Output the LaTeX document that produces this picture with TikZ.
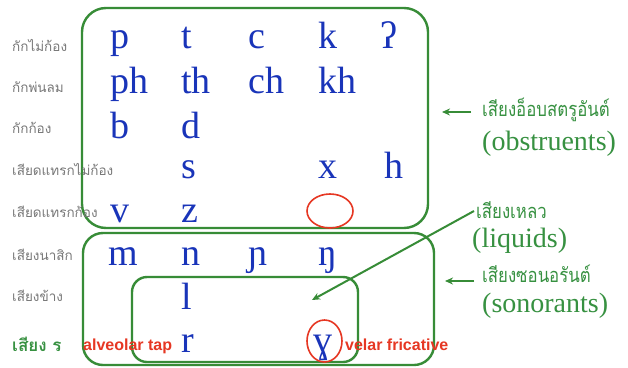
\documentclass[tikz,border=0pt]{standalone}
\usepackage{fontspec}
\setmainfont{Liberation Serif}
\newfontfamily\thaifont[Script=Thai]{Loma}
\newfontfamily\thainarrow[Script=Thai,FakeStretch=0.84]{Loma}
\newfontfamily\labsans{Liberation Sans}
\usetikzlibrary{arrows.meta,shapes.geometric}
\definecolor{ipablue}{RGB}{25,52,185}
\definecolor{boxgreen}{RGB}{55,140,55}
\definecolor{txtgreen}{RGB}{55,145,65}
\definecolor{lblgray}{RGB}{120,120,120}
\definecolor{tapred}{RGB}{230,55,35}
\begin{document}
\begin{tikzpicture}[x=1pt,y=-1pt,
  ipa/.style={anchor=base west,inner sep=0pt,text=ipablue,font=\fontsize{38}{38}\selectfont},
  rowlab/.style={anchor=base west,inner sep=0pt,text=lblgray,font=\thaifont\fontsize{13.5}{13.5}\selectfont},
  grp/.style={draw=boxgreen,line width=2.4pt},
  redlab/.style={anchor=base west,inner sep=0pt,text=tapred,font=\labsans\bfseries\fontsize{16}{16}\selectfont},
  thaigreen/.style={anchor=base west,inner sep=0pt,text=txtgreen,font=\thainarrow\fontsize{20}{20}\selectfont},
  enggreen/.style={anchor=base west,inner sep=0pt,text=txtgreen,font=\fontsize{28}{28}\selectfont},
  pointer/.style={draw=boxgreen,line width=2pt,-{Stealth[length=8pt,width=7pt]}},
  redring/.style={ellipse,draw=tapred,line width=1.6pt,inner sep=0pt}]
\useasboundingbox (0,0) rectangle (628,367);
\fill[white] (0,0) rectangle (628,367);

% group boxes
\draw[grp,rounded corners=24pt] (82,8) rectangle (428,228);
\draw[grp,rounded corners=20pt] (83,233) rectangle (434,365);
\draw[grp,rounded corners=15pt] (132,277) rectangle (358,362);

% row labels
\node[rowlab] (l1) at (12,51) {กักไม่ก้อง};
\node[rowlab] (l2) at (12,92) {กักพ่นลม};
\node[rowlab] (l3) at (12,133) {กักก้อง};
\node[rowlab] (l4) at (12,175) {เสียดแทรกไม่ก้อง};
\node[rowlab] (l5) at (12,217) {เสียดแทรกก้อง};
\node[rowlab] (l6) at (12,260) {เสียงนาสิก};
\node[rowlab] (l7) at (12,301) {เสียงข้าง};
\node[anchor=base west,inner sep=0pt,text=txtgreen,font=\thaifont\bfseries\fontsize{17}{17}\selectfont] (l8) at (12,351) {เสียง ร};

% IPA symbols
\node[ipa] (p) at (110,48) {p};
\node[ipa] (t) at (181,48) {t};
\node[ipa] (c) at (248,48) {c};
\node[ipa] (k) at (318,48) {k};
\node[ipa] (q) at (380,48) {ʔ};
\node[ipa] (ph) at (110,93) {ph};
\node[ipa] (th) at (181,93) {th};
\node[ipa] (ch) at (248,93) {ch};
\node[ipa] (kh) at (318,93) {kh};
\node[ipa] (b) at (110,138) {b};
\node[ipa] (d) at (181,138) {d};
\node[ipa] (s) at (181,178) {s};
\node[ipa] (x) at (318,178) {x};
\node[ipa] (h) at (384,178) {h};
\node[ipa] (v) at (110,222) {v};
\node[ipa] (z) at (181,222) {z};
\node[ipa] (m) at (108,265) {m};
\node[ipa] (n) at (181,265) {n};
\node[ipa] (nj) at (248,265) {ɲ};
\node[ipa] (ng) at (318,265) {ŋ};
\node[ipa] (l) at (181,309) {l};
\node[ipa] (r) at (181,352) {r};
\node[ipa] (gh) at (313,352) {ɣ};

% red rings
\node[redring,minimum width=46pt,minimum height=34pt] (gap) at (330,211) {};
\node[redring,minimum width=35pt,minimum height=42pt] (ring) at (324.5,341) {};

% red labels
\node[redlab] (tap) at (83,350) {alveolar tap};
\node[redlab] (fric) at (345,350) {velar fricative};

% right-hand labels
\node[thaigreen] (obsth) at (482,116) {เสียงอ็อบสตรูอันต์};
\node[enggreen] (obsen) at (482,150) {(obstruents)};
\node[thaigreen] (liqth) at (476,218) {เสียงเหลว};
\node[enggreen] (liqen) at (472,247) {(liquids)};
\node[thaigreen] (sonth) at (482,282) {เสียงซอนอรันต์};
\node[enggreen] (sonen) at (482,312) {(sonorants)};

% pointers
\coordinate (obsS) at (471,112);
\coordinate (obsE) at (442,112);
\coordinate (sonS) at (474,281);
\coordinate (sonE) at (445,281);
\coordinate (liqS) at (474,211);
\coordinate (liqE) at (312,300);
\draw[pointer] (obsS) -- (obsE);
\draw[pointer] (sonS) -- (sonE);
\draw[pointer] (liqS) -- (liqE);
\end{tikzpicture}
\end{document}
